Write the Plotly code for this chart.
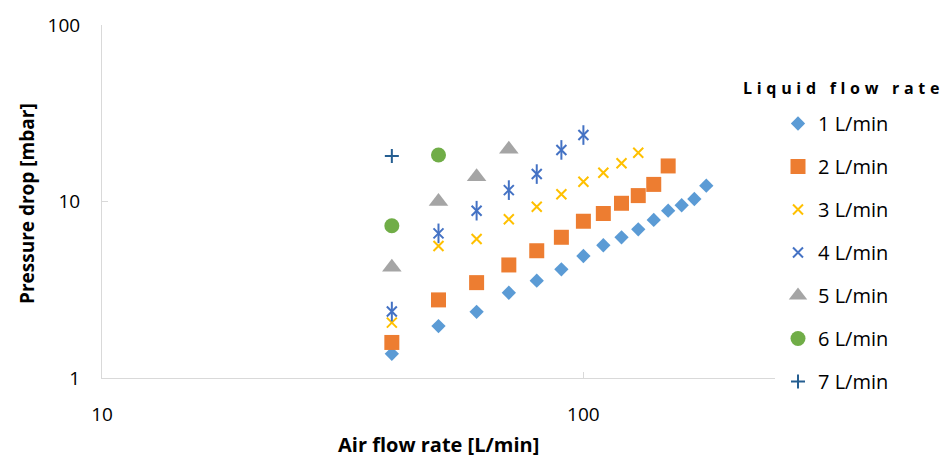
import plotly.graph_objects as go

# Air flow rate [L/min] for each measured point
air_1 = [40, 50, 60, 70, 80, 90, 100, 110, 120, 130, 140, 150, 160, 170, 180]
air_2 = [40, 50, 60, 70, 80, 90, 100, 110, 120, 130, 140, 150]
air_3 = [40, 50, 60, 70, 80, 90, 100, 110, 120, 130]
air_4 = [40, 50, 60, 70, 80, 90, 100]
air_5 = [40, 50, 60, 70]
air_6 = [40, 50]
air_7 = [40]

# Pressure drop [mbar] per liquid flow rate
dp_1 = [1.37, 1.97, 2.37, 3.04, 3.56, 4.13, 4.91, 5.65, 6.27, 6.96, 7.86, 8.87, 9.52, 10.33, 12.29]
dp_2 = [1.59, 2.77, 3.47, 4.37, 5.26, 6.27, 7.73, 8.55, 9.77, 10.8, 12.5, 15.9]
dp_3 = [2.06, 5.59, 6.13, 7.93, 9.34, 11.0, 12.95, 14.56, 16.46, 18.9]
dp_4 = [2.38, 6.6, 8.87, 11.6, 14.3, 19.6, 23.8]
dp_5 = [4.24, 10.0, 13.8, 19.8]
dp_6 = [7.29, 18.35]
dp_7 = [18.1]

series_names = ["1 L/min", "2 L/min", "3 L/min", "4 L/min", "5 L/min", "6 L/min", "7 L/min"]
x_ticks = [10, 100]
y_ticks = [1, 10, 100]

FONT = "Open Sans"
AXIS_GREY = "#D9D9D9"

fig = go.Figure()


def add_series(x, y, name, group, symbol, color, size, line_width=0, show=True):
    fig.add_trace(go.Scatter(
        x=x, y=y, name=name, mode="markers",
        legendgroup=group, showlegend=show,
        marker=dict(symbol=symbol, color=color, size=size,
                    line=dict(color=color, width=line_width)),
    ))


add_series(air_1, dp_1, series_names[0], "g1", "diamond", "#5B9BD5", 11)
add_series(air_2, dp_2, series_names[1], "g2", "square", "#ED7D31", 15)
add_series(air_3, dp_3, series_names[2], "g3", "x-thin-open", "#FFC000", 10, 2)
# six-armed star: an X with a vertical stroke on top
add_series(air_4, dp_4, series_names[3], "g4", "x-thin-open", "#4472C4", 10, 2)
add_series(air_4, dp_4, series_names[3], "g4", "line-ns-open", "#4472C4", 14, 2, show=False)
add_series(air_5, dp_5, series_names[4], "g5", "triangle-up", "#A5A5A5", 17)
add_series(air_6, dp_6, series_names[5], "g6", "circle", "#70AD47", 15)
add_series(air_7, dp_7, series_names[6], "g7", "cross-thin-open", "#255E91", 10, 2)

axis_common = dict(
    type="log", showgrid=False, zeroline=False,
    showline=True, linecolor=AXIS_GREY, linewidth=1,
    ticks="inside", ticklen=6, tickcolor=AXIS_GREY, tickwidth=1,
    tickfont=dict(family=FONT, size=19, color="#000000"),
)

fig.update_xaxes(**axis_common, range=[0.99999, 2.398], tickvals=x_ticks,
                 ticktext=[str(v) for v in x_ticks], ticklabelstandoff=19)
fig.update_yaxes(**axis_common, range=[0, 2.00001], tickvals=y_ticks,
                 ticktext=[str(v) for v in y_ticks], ticklabelstandoff=17)

fig.update_layout(
    width=946, height=457,
    margin=dict(l=102, r=171, t=25, b=79, autoexpand=False),
    paper_bgcolor="white", plot_bgcolor="white",
    font=dict(family=FONT, color="#000000"),
    legend=dict(
        xref="container", yref="container",
        x=778 / 946, y=1 - 104 / 457, xanchor="left", yanchor="top",
        traceorder="grouped", tracegroupgap=14,
        font=dict(family=FONT, size=20, color="#000000"),
        itemwidth=30, bgcolor="rgba(0,0,0,0)", maxheight=350,
    ),
    annotations=[
        dict(text="<b>Air flow rate [L/min]</b>", xref="paper", yref="paper",
             x=0.5, y=(378 - 444) / 353, showarrow=False,
             xanchor="center", yanchor="middle",
             font=dict(family=FONT, size=20, color="#000000")),
        dict(text="<b>Pressure drop [mbar]</b>", xref="paper", yref="paper",
             x=(27 - 102) / 673, y=(378 - 204) / 353, showarrow=False,
             xanchor="center", yanchor="middle", textangle=-90,
             font=dict(family=FONT, size=19, color="#000000")),
        dict(text='<b><span style="letter-spacing:4.7px">Liquid flow rate</span></b>',
             xref="paper", yref="paper",
             x=(843 - 102) / 673, y=(378 - 88) / 353, showarrow=False,
             xanchor="center", yanchor="middle",
             font=dict(family=FONT, size=16, color="#000000")),
    ],
)

fig.write_html("out.html")
